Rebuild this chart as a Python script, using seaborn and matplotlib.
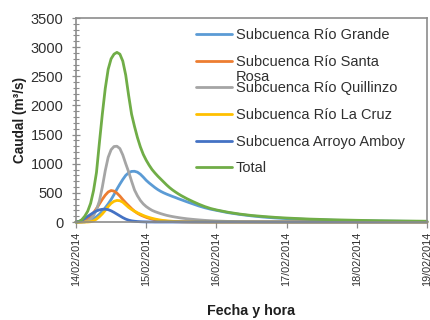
import numpy as np
import pandas as pd
import matplotlib
matplotlib.use("Agg")
import matplotlib.pyplot as plt
import matplotlib.dates as mdates
from matplotlib.ticker import MultipleLocator
import seaborn as sns

# Hours elapsed since 14/02/2014 00:00
hours = [0, 1, 2, 3, 4, 5, 6, 7, 8, 9, 10, 11, 12, 13, 14, 15, 16, 17, 18, 19,
         20, 21, 22, 23, 24, 25, 26, 27, 28, 29, 30, 31, 32, 33, 34, 35, 36,
         38, 40, 42, 44, 46, 48, 52, 56, 60, 64, 68, 72, 80, 88, 96, 104, 112, 120]

# Discharge (m3/s) per sub-basin
rio_grande = [0, 0, 0, 3, 12, 30, 55, 90, 135, 185, 245, 310, 385, 470, 565, 650,
              730, 800, 845, 868, 870, 855, 820, 770, 715, 670, 630, 590, 555, 525,
              500, 478, 458, 438, 420, 400, 382,
              345, 310, 275, 245, 220, 200, 160, 130, 105, 85, 70, 58, 42, 30, 22,
              16, 12, 9]
santa_rosa = [0, 0, 2, 15, 45, 95, 160, 230, 310, 390, 460, 515, 540, 530, 495,
              445, 385, 330, 280, 230, 185, 150, 122, 100, 80, 63, 50, 38, 28, 21,
              16, 12, 9, 7, 5, 4, 3,
              2, 1, 1, 0, 0, 0, 0, 0, 0, 0, 0, 0, 0, 0, 0, 0, 0, 0]
quillinzo = [0, 0, 0, 2, 15, 50, 110, 210, 360, 600, 880, 1110, 1240, 1295, 1300,
             1260, 1150, 1000, 860, 700, 550, 450, 370, 310, 265, 230, 200, 178,
             160, 143, 128, 114, 103, 93, 84, 76, 68,
             55, 45, 36, 28, 22, 17, 10, 6, 4, 2, 1, 0, 0, 0, 0, 0, 0, 0]
la_cruz = [0, 0, 0, 0, 0, 5, 20, 50, 90, 140, 200, 265, 320, 355, 370, 365, 340,
           295, 250, 215, 185, 158, 135, 112, 93, 77, 63, 51, 41, 32, 25, 20, 16,
           12, 9, 7, 5,
           3, 2, 1, 1, 0, 0, 0, 0, 0, 0, 0, 0, 0, 0, 0, 0, 0, 0]
amboy = [0, 10, 30, 60, 95, 130, 162, 190, 208, 218, 220, 212, 192, 165, 135, 105,
         75, 50, 32, 20, 13, 8, 5, 3, 2, 1, 1, 0, 0, 0, 0, 0, 0, 0, 0, 0, 0,
         0, 0, 0, 0, 0, 0, 0, 0, 0, 0, 0, 0, 0, 0, 0, 0, 0, 0]
total = [0, 5, 40, 100, 185, 320, 540, 850, 1360, 1850, 2290, 2620, 2800, 2880,
         2910, 2880, 2760, 2520, 2170, 1850, 1640, 1450, 1290, 1160, 1060, 975,
         900, 840, 785, 735, 685, 635, 590, 550, 515, 482, 452,
         398, 350, 305, 265, 232, 207, 167, 136, 112, 95, 80, 68, 50, 38, 29, 22,
         17, 13]

series_names = ["Subcuenca Río Grande", "Subcuenca Río Santa Rosa",
                "Subcuenca Río Quillinzo", "Subcuenca Río La Cruz",
                "Subcuenca Arroyo Amboy", "Total"]
series_values = [rio_grande, santa_rosa, quillinzo, la_cruz, amboy, total]
colors = ["#5B9BD5", "#ED7D31", "#A5A5A5", "#FFC000", "#4472C4", "#70AD47"]

start = pd.Timestamp("2014-02-14")
frames = []
for name, vals in zip(series_names, series_values):
    frames.append(pd.DataFrame({
        "fecha": start + pd.to_timedelta(hours, unit="h"),
        "caudal": vals,
        "serie": name,
    }))
df = pd.concat(frames, ignore_index=True)

sns.set_style("white")
plt.rcParams["font.family"] = ["Liberation Sans", "DejaVu Sans"]

W, H = 431, 320
fig = plt.figure(figsize=(W / 100, H / 100), dpi=100)
ax = fig.add_axes([76 / W, 1 - 222 / H, 351 / W, 204 / H])

sns.lineplot(data=df, x="fecha", y="caudal", hue="serie", hue_order=series_names,
             palette=dict(zip(series_names, colors)), linewidth=2.0,
             legend=False, ax=ax)
for ln in ax.get_lines():
    ln.set_clip_on(False)
    ln.set_solid_capstyle("round")
    ln.set_solid_joinstyle("round")

ax.set_ylim(0, 3500)
ax.set_xlim(start, start + pd.Timedelta(days=5))
ax.yaxis.set_major_locator(MultipleLocator(500))
ax.yaxis.set_minor_locator(MultipleLocator(100))
ax.xaxis.set_major_locator(mdates.DayLocator())
ax.xaxis.set_major_formatter(mdates.DateFormatter("%d/%m/%Y"))

spine_color = "#8C8C8C"
for sp in ax.spines.values():
    sp.set_color(spine_color)
    sp.set_linewidth(1.2)

text_color = "#303030"
ax.tick_params(axis="y", which="major", direction="inout", length=6, width=0.9,
               color=spine_color, labelsize=10.5, pad=6, left=True,
               labelcolor=text_color)
ax.tick_params(axis="y", which="minor", direction="inout", length=4, width=0.8,
               color=spine_color, left=True)
ax.tick_params(axis="x", which="major", direction="out", length=4, width=0.9,
               color=spine_color, labelsize=7.8, pad=3, bottom=True,
               labelrotation=90, labelcolor=text_color)

ax.set_ylabel("Caudal (m³/s)", fontsize=9.8, fontweight="bold", color="#1f1f1f")
ax.set_xlabel("Fecha y hora", fontsize=10.3, fontweight="bold", color="#1f1f1f")
ax.yaxis.set_label_coords(-0.14, 0.5)
ax.xaxis.set_label_coords(0.5, -0.40)

# The second entry wraps onto a second line ("Rosa") without pushing the rest down
leg_labels = ["Subcuenca Río Grande", "Subcuenca Río Santa", "Subcuenca Río Quillinzo",
              "Subcuenca Río La Cruz", "Subcuenca Arroyo Amboy", "Total"]
leg = ax.legend(ax.get_lines(), leg_labels, loc="upper left",
                bbox_to_anchor=(196 / W, 1 - 28 / H),
                bbox_transform=fig.transFigure, frameon=False, fontsize=10.5,
                handlelength=2.5, handletextpad=0.25, labelspacing=0.87,
                borderpad=0, borderaxespad=0)
for t in leg.get_texts():
    t.set_color(text_color)
for h in leg.legend_handles:
    h.set_linewidth(2.0)

fig.canvas.draw()
bb = leg.get_texts()[1].get_window_extent()
fig.text(bb.x0 / W, (bb.y0 - 15) / H, "Rosa", ha="left", va="bottom",
         fontsize=10.5, color=text_color)

fig.savefig("out.png", dpi=100)
